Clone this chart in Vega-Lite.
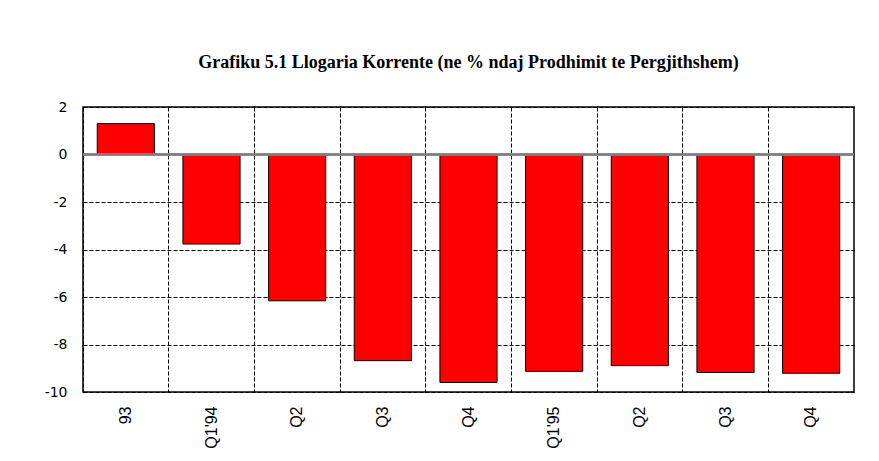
{
  "$schema": "https://vega.github.io/schema/vega-lite/v6.json",
  "autosize": "none",
  "width": 771,
  "height": 285,
  "padding": {"left": 83, "top": 107, "right": 25, "bottom": 69},
  "background": "white",
  "title": {
    "text": "Grafiku 5.1 Llogaria Korrente (ne %  ndaj Prodhimit te Pergjithshem)",
    "font": "Liberation Serif",
    "fontSize": 18,
    "fontWeight": "bold",
    "color": "black",
    "anchor": "middle",
    "offset": 28
  },
  "config": {
    "view": {"stroke": "black", "strokeWidth": 1.5},
    "axis": {"gridColor": "black", "gridDash": [4, 2], "gridWidth": 1, "gridOpacity": 1, "ticks": false, "domain": false, "labelColor": "black"}
  },
  "data": {
    "values": [
      {"q": "93", "v": 1.3},
      {"q": "Q1'94", "v": -3.77},
      {"q": "Q2'94", "v": -6.16},
      {"q": "Q3'94", "v": -8.68},
      {"q": "Q4'94", "v": -9.6},
      {"q": "Q1'95", "v": -9.13},
      {"q": "Q2'95", "v": -8.89},
      {"q": "Q3'95", "v": -9.18},
      {"q": "Q4'95", "v": -9.21}
    ]
  },
  "layer": [
    {
      "mark": {"type": "bar", "fill": "#ff0000", "stroke": "black", "strokeWidth": 1, "width": {"band": 0.667}},
      "encoding": {
        "x": {
          "field": "q", "type": "nominal", "sort": null,
          "scale": {"paddingInner": 0, "paddingOuter": 0},
          "axis": {
            "title": null, "grid": true, "bandPosition": 0,
            "labelAngle": -90, "labelOffset": 0, "labelPadding": 14,
            "labelFont": "Liberation Sans", "labelFontSize": 16,
            "labelExpr": "length(datum.value) > 2 && slice(datum.value, 0, 2) != 'Q1' ? slice(datum.value, 0, 2) : datum.value"
          }
        },
        "y": {
          "field": "v", "type": "quantitative",
          "scale": {"domain": [-10, 2], "nice": false, "zero": false},
          "axis": {
            "title": null, "grid": true, "values": [-10, -8, -6, -4, -2, 0, 2],
            "labelExpr": "toString(datum.value)",
            "labelPadding": 16, "labelFont": "DejaVu Sans", "labelFontSize": 14
          }
        }
      }
    },
    {
      "mark": {"type": "rule", "color": "#808080", "strokeWidth": 1.5},
      "encoding": {"y": {"datum": 0}}
    }
  ]
}
